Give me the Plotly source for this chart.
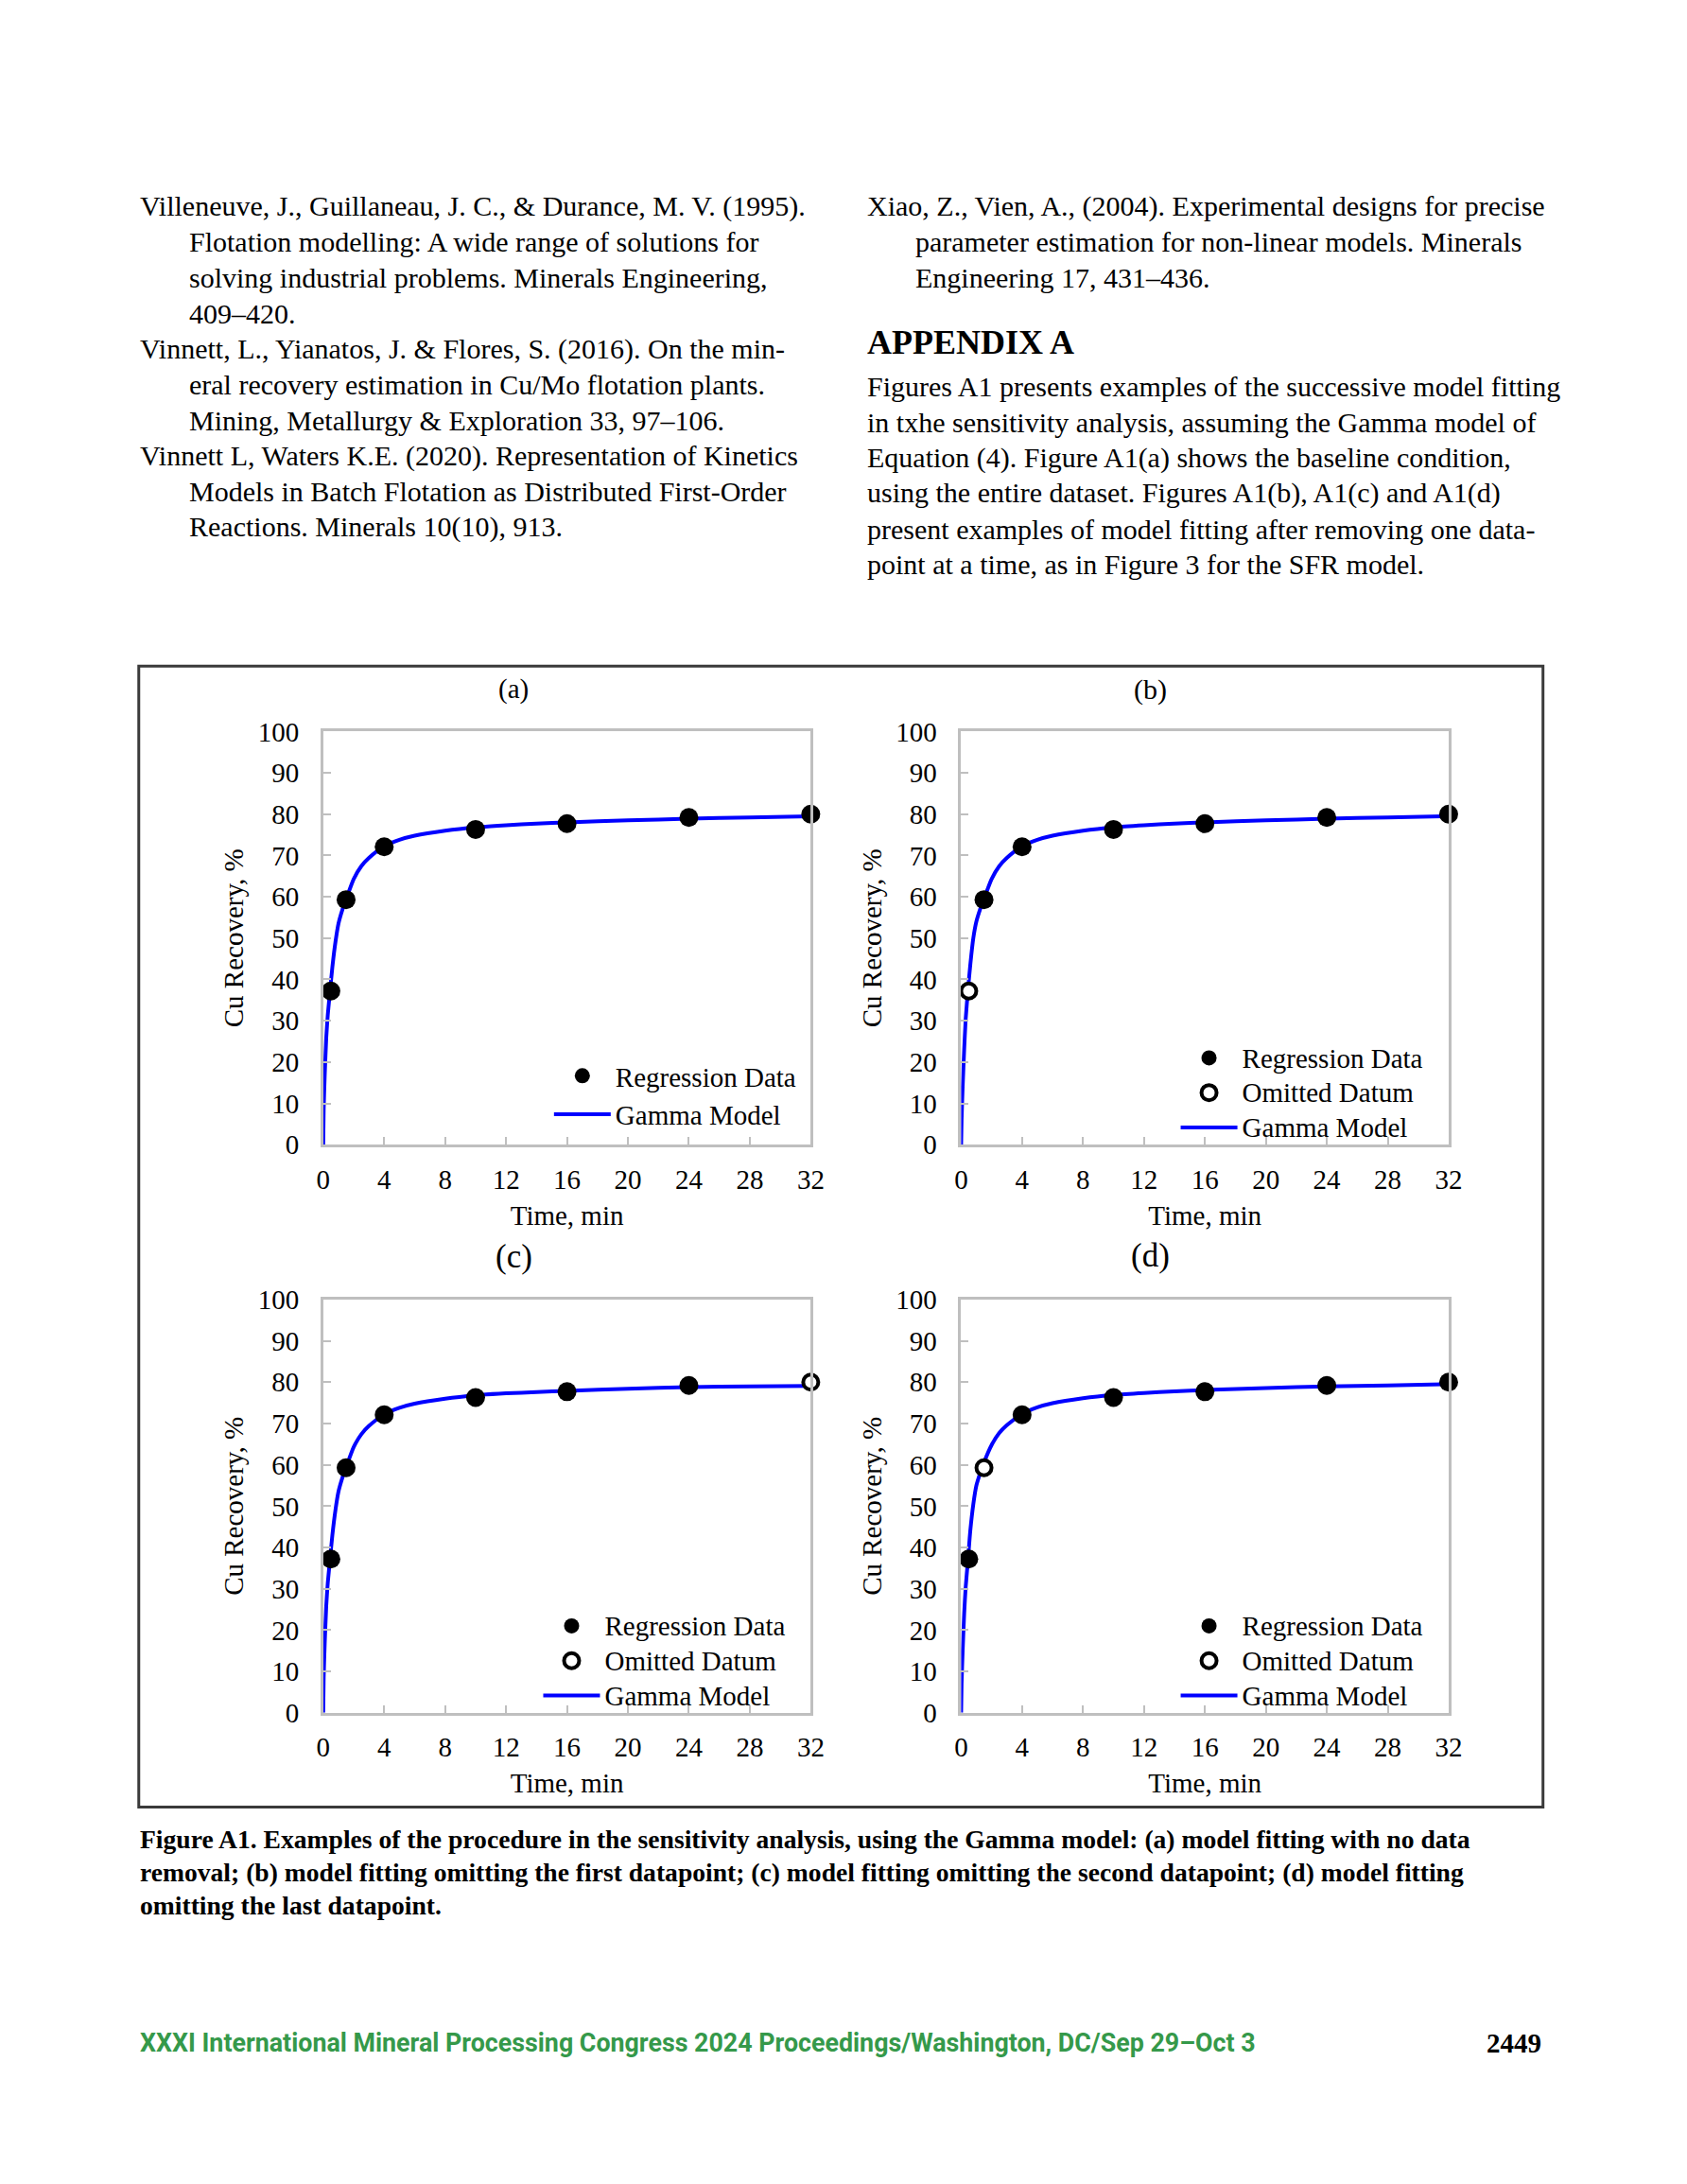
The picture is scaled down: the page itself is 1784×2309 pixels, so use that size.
import plotly.graph_objects as go

W, H = 1784, 2309

# ---------------- data ----------------
time_min = [0.5, 1.5, 4, 10, 16, 24, 32]
cu_recovery = [37.2, 59.3, 72.1, 76.3, 77.7, 79.2, 80.0]

model_time = [0, 0.03, 0.1, 0.2, 0.3, 0.45, 0.6, 0.8, 1.0, 1.25, 1.5, 2.0, 2.5,
              3.0, 4.0, 5.0, 6.0, 8.0, 10, 12, 14, 16, 20, 24, 28, 32]
model_a = [0, 8.5, 17, 26, 31.5, 37.3, 43, 49, 53.5, 56.8, 59.4, 64.3, 67.4,
           69.4, 72.2, 73.8, 74.8, 76.0, 76.8, 77.3, 77.7, 78.0, 78.5, 78.9, 79.2, 79.5]
model_b = [0, 6, 14, 23, 30.5, 37.5, 43.5, 50, 54, 57, 59.5, 64.3, 67.4,
           69.4, 72.2, 73.8, 74.8, 76.0, 76.8, 77.3, 77.7, 78.0, 78.5, 78.9, 79.2, 79.5]
model_c = [0, 8.5, 17, 26, 31.5, 37.3, 43, 49, 53.5, 56.8, 59.4, 64.3, 67.4,
           69.4, 72.2, 73.8, 74.8, 76.0, 76.8, 77.3, 77.6, 77.9, 78.4, 78.8, 79.0, 79.1]
model_d = [0, 7, 15, 24, 30.5, 37, 44, 50.5, 55, 58, 60.6, 64.8, 67.7,
           69.6, 72.3, 73.9, 74.9, 76.1, 76.9, 77.4, 77.8, 78.1, 78.6, 79.0, 79.2, 79.5]

panel_labels = ["(a)", "(b)", "(c)", "(d)"]
omitted_index = [None, 0, 6, 1]
x_ticks = [0, 4, 8, 12, 16, 20, 24, 28, 32]
y_ticks = [0, 10, 20, 30, 40, 50, 60, 70, 80, 90, 100]

left_column = [
    "Villeneuve, J., Guillaneau, J. C., & Durance, M. V. (1995).",
    "Flotation modelling: A wide range of solutions for",
    "solving industrial problems. Minerals Engineering,",
    "409–420.",
    "Vinnett, L., Yianatos, J. & Flores, S. (2016). On the min-",
    "eral recovery estimation in Cu/Mo flotation plants.",
    "Mining, Metallurgy & Exploration 33, 97–106.",
    "Vinnett L, Waters K.E. (2020). Representation of Kinetics",
    "Models in Batch Flotation as Distributed First-Order",
    "Reactions. Minerals 10(10), 913.",
]
left_indent = [0, 1, 1, 1, 0, 1, 1, 0, 1, 1]
right_refs = [
    "Xiao, Z., Vien, A., (2004). Experimental designs for precise",
    "parameter estimation for non-linear models. Minerals",
    "Engineering 17, 431–436.",
]
right_indent = [0, 1, 1]
appendix_title = "APPENDIX A"
appendix_text = [
    "Figures A1 presents examples of the successive model fitting",
    "in txhe sensitivity analysis, assuming the Gamma model of",
    "Equation (4). Figure A1(a) shows the baseline condition,",
    "using the entire dataset. Figures A1(b), A1(c) and A1(d)",
    "present examples of model fitting after removing one data-",
    "point at a time, as in Figure 3 for the SFR model.",
]
caption = [
    "Figure A1. Examples of the procedure in the sensitivity analysis, using the Gamma model: (a) model fitting with no data",
    "removal; (b) model fitting omitting the first datapoint; (c) model fitting omitting the second datapoint; (d) model fitting",
    "omitting the last datapoint.",
]
footer = "XXXI International Mineral Processing Congress 2024 Proceedings/Washington, DC/Sep 29–Oct 3"
page_number = "2449"

# ---------------- layout helpers ----------------
def px(x):
    return x / W

def py(y):
    return 1 - y / H

SERIF = "Liberation Serif, Times New Roman, serif"
FS = 29

models = [model_a, model_b, model_c, model_d]
# pixel boxes of the four plot areas: (left, right, top, bottom)
boxes = [(339, 861, 768, 1211), (1022, 1544, 768, 1211),
         (339, 861, 1377, 1820), (1022, 1544, 1377, 1820)]
title_pos = [(543, 723, 29), (1225, 723, 30), (543, 1331, 35), (1225, 1330, 35)]
legend_pos = [(616, 1158), (1287, 1155.5), (604.5, 1764.5), (1287, 1764.5)]
legend_rowfont = [29, 26, 26, 26]   # font size that sets the legend row pitch

fig = go.Figure()
layout = dict(
    width=W, height=H,
    margin=dict(l=0, r=0, t=0, b=0),
    paper_bgcolor="white", plot_bgcolor="white",
    font=dict(family=SERIF, size=FS, color="black"),
    showlegend=True,
)

annotations = []
shapes = []

def leg_name(s, i):
    if legend_rowfont[i] == FS:
        return s
    return '<span style="font-size:%dpx">%s</span>' % (FS, s)

for i in range(4):
    sfx = "" if i == 0 else str(i + 1)
    xa, ya = "x" + sfx, "y" + sfx
    leg = "legend" + sfx
    l, r, t, b = boxes[i]

    # model curve
    fig.add_trace(go.Scatter(
        x=model_time, y=models[i], mode="lines",
        line=dict(color="#0000ff", width=4, shape="spline", smoothing=0.6),
        name=leg_name("Gamma Model", i), xaxis=xa, yaxis=ya, legend=leg, legendrank=3,
        cliponaxis=True, hoverinfo="skip"))

    om = omitted_index[i]
    reg_x = [tv for k, tv in enumerate(time_min) if k != om]
    reg_y = [rv for k, rv in enumerate(cu_recovery) if k != om]
    fig.add_trace(go.Scatter(
        x=reg_x, y=reg_y, mode="markers",
        marker=dict(color="black", size=20, line=dict(width=0)),
        name=leg_name("Regression Data", i), xaxis=xa, yaxis=ya, legend=leg, legendrank=1,
        cliponaxis=False))
    if om is not None:
        fig.add_trace(go.Scatter(
            x=[time_min[om]], y=[cu_recovery[om]], mode="markers",
            marker=dict(color="white", size=16, line=dict(color="black", width=4)),
            name=leg_name("Omitted Datum", i), xaxis=xa, yaxis=ya, legend=leg, legendrank=2,
            cliponaxis=False))

    axis_common = dict(
        showline=True, linecolor="#bfbfbf", linewidth=2.5, mirror=True,
        ticks="inside", ticklen=8, tickwidth=2, tickcolor="#bfbfbf",
        showgrid=False, zeroline=False,
        tickfont=dict(family=SERIF, size=FS, color="black"),
    )
    layout["xaxis" + sfx] = dict(
        axis_common, domain=[px(l), px(r)], range=[0, 32],
        tickvals=x_ticks, ticklabelstandoff=9,
        anchor=ya,
        title=dict(text="Time, min", font=dict(family=SERIF, size=FS), standoff=13),
    )
    layout["yaxis" + sfx] = dict(
        axis_common, domain=[py(b), py(t)], range=[0, 100],
        tickvals=y_ticks, ticklabelstandoff=17,
        anchor=xa,
        title=dict(text="Cu Recovery, %", font=dict(family=SERIF, size=FS), standoff=7),
    )
    mx, my = legend_pos[i]
    layout[leg] = dict(
        x=px(mx - 35), y=py(my), xanchor="left", yanchor="middle",
        bgcolor="rgba(0,0,0,0)", borderwidth=0,
        font=dict(family=SERIF, size=legend_rowfont[i], color="black"),
        itemwidth=60, traceorder="normal",
    )
    tx, ty, ts = title_pos[i]
    annotations.append(dict(
        x=px(tx), y=py(ty), xref="paper", yref="paper", text=panel_labels[i],
        showarrow=False, xanchor="center", yanchor="middle",
        font=dict(family=SERIF, size=ts, color="black")))

# frame around the figure
shapes.append(dict(type="rect", xref="paper", yref="paper",
                   x0=px(141.5), x1=px(1645), y0=py(1921), y1=py(698),
                   line=dict(color="#3a3a3a", width=3), fillcolor="rgba(0,0,0,0)"))

# ---------------- page text ----------------
BODY = 30
STEP = 38.2

def text_line(x, y, s, size, bold=False, family=SERIF, color="black", anchor="left"):
    annotations.append(dict(
        x=px(x), y=py(y), xref="paper", yref="paper",
        text=("<b>%s</b>" % s) if bold else s, showarrow=False,
        xanchor=anchor, yanchor="middle", align=anchor,
        font=dict(family=family, size=size, color=color)))

for k, s in enumerate(left_column):
    text_line(141 if left_indent[k] == 0 else 193, 205 + STEP * k, s, BODY)
for k, s in enumerate(right_refs):
    text_line(919 if right_indent[k] == 0 else 971, 205 + STEP * k, s, BODY)
text_line(919, 351, appendix_title, 36, bold=True)
for k, s in enumerate(appendix_text):
    text_line(919, 398 + STEP * k, s, BODY)
for k, s in enumerate(caption):
    text_line(141, 1956 + 35.5 * k, s, 27.6, bold=True)
text_line(141, 2174, footer, 26.8, bold=True, family="Roboto, Noto Sans, sans-serif", color="#35994a")
text_line(1645, 2174, page_number, 29, bold=True, anchor="right")

layout["annotations"] = annotations
layout["shapes"] = shapes
fig.update_layout(**layout)
fig.write_html(
    "out.html",
    config={"displayModeBar": False},
    post_script="document.body.style.margin='0';document.body.style.padding='0';"
                "document.body.style.overflow='hidden';",
)
